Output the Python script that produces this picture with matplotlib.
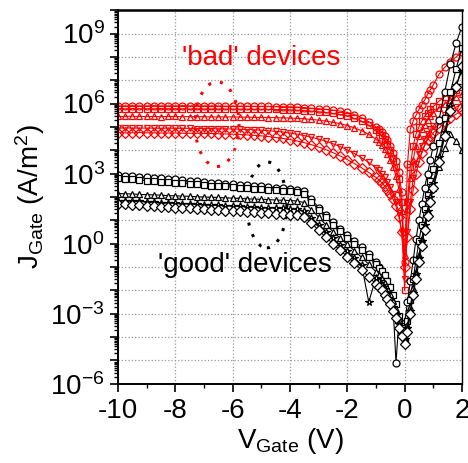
import numpy as np
import matplotlib
matplotlib.use('Agg')
import matplotlib.pyplot as plt
from matplotlib.ticker import LogLocator, FuncFormatter, MultipleLocator, NullFormatter
from matplotlib.patches import Ellipse

plt.rcParams['font.family'] = ['Liberation Sans', 'DejaVu Sans']
plt.rcParams['mathtext.fontset'] = 'custom'
plt.rcParams['mathtext.rm'] = 'Liberation Sans'
plt.rcParams['mathtext.it'] = 'Liberation Sans'

# gate voltage sweep (V)
V = [-10.0, -9.75, -9.5, -9.25, -9.0, -8.75, -8.5, -8.25, -8.0, -7.75, -7.5, -7.25,
     -7.0, -6.75, -6.5, -6.25, -6.0, -5.75, -5.5, -5.25, -5.0, -4.75, -4.5, -4.25, -4.0,
     -3.75, -3.5, -3.25, -3.0, -2.75, -2.5, -2.25, -2.0, -1.75, -1.5, -1.25, -1.0,
     -0.9, -0.8, -0.7, -0.6, -0.5, -0.4, -0.3, -0.2, -0.1, 0.0, 0.1, 0.2, 0.3, 0.4,
     0.5, 0.6, 0.7, 0.8, 0.9, 1.0,
     1.2, 1.4, 1.6, 1.8, 2.0]

# log10(J_gate), 'bad' devices
bad_1 = [5.90, 5.90, 5.91, 5.90, 5.90, 5.91, 5.90, 5.90, 5.90, 5.91, 5.90, 5.90, 5.90, 5.90, 5.90, 5.89, 5.89, 5.89, 5.89, 5.88, 5.88, 5.88, 5.87, 5.87, 5.86,
         5.85, 5.83, 5.80, 5.78, 5.75, 5.72, 5.68, 5.62, 5.53, 5.40, 5.22, 5.00,
         4.90, 4.78, 4.62, 4.42, 4.18, 3.90, 3.55, 3.05, 2.20, -0.8, 3.4, 4.9, 5.25, 5.5, 5.75, 5.95, 6.15, 6.4, 6.6, 6.8,
         7.25, 7.55, 7.8, 8.0, 8.2]
bad_2 = [5.78, 5.78, 5.79, 5.78, 5.78, 5.78, 5.79, 5.78, 5.78, 5.78, 5.77, 5.78, 5.77, 5.77, 5.77, 5.77, 5.76, 5.76, 5.76, 5.76, 5.75, 5.75, 5.75, 5.74, 5.73,
         5.72, 5.70, 5.68, 5.65, 5.62, 5.58, 5.53, 5.46, 5.37, 5.25, 5.08, 4.88,
         4.78, 4.65, 4.48, 4.26, 4.0, 3.68, 3.28, 2.75, 1.8, -2.0, 1.8, 3.3, 4.2, 4.7, 5.0, 5.25, 5.45, 5.6, 5.75, 5.88,
         6.1, 6.3, 6.45, 6.6, 6.7]
bad_3 = [5.45, 5.45, 5.46, 5.45, 5.45, 5.45, 5.44, 5.45, 5.45, 5.44, 5.44, 5.44, 5.44, 5.43, 5.43, 5.43, 5.43, 5.42, 5.42, 5.41, 5.41, 5.40, 5.40, 5.39, 5.38,
         5.37, 5.35, 5.32, 5.29, 5.25, 5.20, 5.14, 5.06, 4.96, 4.84, 4.68, 4.48,
         4.36, 4.22, 4.05, 3.85, 3.6, 3.28, 2.9, 2.35, 1.4, -0.5, 1.5, 2.8, 3.6, 4.2, 4.6, 4.9, 5.1, 5.3, 5.45, 5.6,
         5.8, 6.0, 6.15, 6.3, 6.4]
bad_4 = [4.95, 4.96, 4.95, 4.95, 4.95, 4.95, 4.94, 4.95, 4.94, 4.94, 4.94, 4.93, 4.93, 4.93, 4.92, 4.92, 4.91, 4.90, 4.89, 4.88, 4.86, 4.84, 4.81, 4.78, 4.74,
         4.69, 4.63, 4.56, 4.48, 4.39, 4.28, 4.16, 4.02, 3.86, 3.68, 3.48, 3.26,
         3.15, 3.0, 2.85, 2.65, 2.42, 2.15, 1.8, 1.3, 0.5, -1.5, 0.5, 1.8, 2.8, 3.4, 3.85, 4.2, 4.5, 4.7, 4.9, 5.05,
         5.3, 5.5, 5.7, 5.85, 6.0]
bad_5 = [4.76, 4.75, 4.75, 4.76, 4.75, 4.75, 4.74, 4.74, 4.74, 4.73, 4.73, 4.73, 4.72, 4.72, 4.71, 4.70, 4.69, 4.68, 4.66, 4.64, 4.62, 4.59, 4.55, 4.51, 4.46,
         4.40, 4.33, 4.24, 4.14, 4.03, 3.90, 3.76, 3.60, 3.43, 3.25, 3.05, 2.84,
         2.74, 2.62, 2.48, 2.32, 2.12, 1.9, 1.6, 1.15, 0.5, -1.0, 0.3, 1.5, 2.3, 3.0, 3.5, 3.9, 4.2, 4.45, 4.6, 4.75,
         4.95, 5.2, 5.4, 5.55, 5.7]

# log10(J_gate), 'good' devices
good_1 = [2.95, 2.92, 2.90, 2.87, 2.85, 2.82, 2.80, 2.77, 2.75, 2.72, 2.70, 2.67, 2.65, 2.62, 2.60, 2.57, 2.55, 2.52, 2.50, 2.47, 2.45, 2.42, 2.40, 2.37, 2.35,
          2.32, 2.25, 1.90, 1.55, 1.22, 0.92, 0.64, 0.38, 0.12, -0.15, -0.45, -0.78,
          -1.0, -1.25, -1.5, -1.8, -2.2, -2.7, -5.1, -3.3, -3.7, -3.4, -2.5, -1.6, -0.7, 0.2, 1.0, 1.7, 2.4, 3.0, 3.6, 4.2,
          5.3, 6.5, 7.7, 8.6, 9.3]
good_2 = [2.80, 2.78, 2.75, 2.73, 2.70, 2.68, 2.66, 2.63, 2.61, 2.59, 2.56, 2.54, 2.52, 2.49, 2.47, 2.45, 2.42, 2.40, 2.38, 2.35, 2.33, 2.31, 2.28, 2.26, 2.24,
          2.21, 2.13, 1.80, 1.46, 1.13, 0.82, 0.53, 0.26, 0.0, -0.27, -0.56, -0.88,
          -1.02, -1.18, -1.36, -1.58, -1.85, -2.2, -2.6, -3.1, -3.6, -4.2, -3.3, -2.4, -1.5, -0.7, 0.1, 0.8, 1.5, 2.1, 2.7, 3.2,
          4.3, 5.4, 6.5, 7.5, 8.4]
good_3 = [2.15, 2.14, 2.13, 2.11, 2.10, 2.09, 2.08, 2.06, 2.05, 2.04, 2.03, 2.01, 2.00, 1.99, 1.98, 1.96, 1.95, 1.94, 1.92, 1.91, 1.90, 1.89, 1.87, 1.86, 1.85,
          1.83, 1.76, 1.46, 1.14, 0.82, 0.52, 0.24, -0.03, -0.30, -0.58, -0.88, -1.2,
          -1.34, -1.5, -1.68, -1.9, -2.15, -2.45, -2.8, -3.25, -3.7, -4.0, -3.5, -2.7, -1.9, -1.2, -0.5, 0.2, 0.8, 1.4, 1.9, 2.4,
          3.3, 4.1, 4.7, 4.4, 4.0]
good_4 = [1.85, 1.84, 1.82, 1.81, 1.79, 1.78, 1.76, 1.75, 1.73, 1.72, 1.70, 1.69, 1.67, 1.66, 1.64, 1.63, 1.61, 1.60, 1.58, 1.57, 1.55, 1.54, 1.52, 1.51, 1.49,
          1.47, 1.40, 1.12, 0.82, 0.52, 0.23, -0.05, -0.32, -0.6, -0.9, -2.5, -1.45,
          -1.58, -1.75, -1.94, -2.15, -2.4, -2.7, -3.05, -3.45, -3.85, -4.1, -3.6, -2.9, -2.1, -1.3, -0.6, 0.1, 0.8, 1.4, 2.0, 2.6,
          3.7, 4.8, 5.9, 6.8, 7.4]
good_5 = [1.70, 1.68, 1.66, 1.65, 1.63, 1.61, 1.59, 1.57, 1.55, 1.53, 1.52, 1.50, 1.48, 1.46, 1.44, 1.42, 1.40, 1.38, 1.36, 1.35, 1.33, 1.31, 1.29, 1.27, 1.25,
          1.23, 1.16, 0.88, 0.58, 0.28, 0.0, -0.28, -0.55, -0.83, -1.12, -1.42, -1.72,
          -1.85, -2.0, -2.18, -2.38, -2.6, -2.88, -3.2, -3.6, -3.95, -4.3, -3.8, -3.0, -2.2, -1.5, -0.8, -0.1, 0.6, 1.2, 1.8, 2.4,
          3.5, 4.6, 5.7, 6.7, 7.6]

bad_curves = [bad_1, bad_2, bad_3, bad_4, bad_5]
good_curves = [good_1, good_2, good_3, good_4, good_5]
bad_markers = ['o', 's', '^', 'v', 'D']
good_markers = ['o', 's', '^', '*', 'D']

fig = plt.figure(figsize=(4.68, 4.63), dpi=100)
ax = fig.add_axes([0.252, 0.171, 0.735, 0.807])

for y, m in zip(bad_curves, bad_markers):
    ax.plot(V, 10.0 ** np.array(y), '-', color='red', lw=0.8,
            marker=m, ms=5, mfc='none', mec='red', mew=0.9)
for y, m in zip(good_curves, good_markers):
    ax.plot(V, 10.0 ** np.array(y), '-', color='black', lw=0.8,
            marker=m, ms=5.5 if m == '*' else 5, mfc='white', mec='black', mew=0.9)

ax.set_yscale('log')
ax.set_xlim(-10, 2)
ax.set_ylim(1e-6, 1e10)

ax.xaxis.set_major_locator(MultipleLocator(2))
ax.xaxis.set_minor_locator(MultipleLocator(1))
ax.yaxis.set_major_locator(LogLocator(base=10, numticks=30))
ax.yaxis.set_minor_locator(LogLocator(base=10, subs=np.arange(2, 10), numticks=30))
ax.yaxis.set_minor_formatter(NullFormatter())

def ylab(v, pos):
    e = int(round(np.log10(v)))
    return r'$10^{%d}$' % e if e % 3 == 0 else ''

ax.yaxis.set_major_formatter(FuncFormatter(ylab))
ax.xaxis.set_major_formatter(FuncFormatter(lambda v, p: '%d' % v))

ax.tick_params(which='major', direction='out', length=6, width=1.2, labelsize=20)
ax.tick_params(which='minor', direction='out', length=3, width=1.0)
ax.tick_params(axis='x', pad=4)
ax.grid(True, which='major', color='#999999', ls=':', lw=0.9)
for side in ['left', 'bottom']:
    ax.spines[side].set_linewidth(1.4)
ax.spines['top'].set_linewidth(1.8)
ax.spines['right'].set_linewidth(1.0)

ax.set_xlabel(r'V$_{\mathrm{Gate}}$ (V)', fontsize=20, labelpad=2)
ax.set_ylabel(r'J$_{\mathrm{Gate}}$ (A/m$^2$)', fontsize=20, labelpad=2)

ax.text(0.416, 0.872, "'bad' devices", color='red', fontsize=20,
        ha='center', va='center', transform=ax.transAxes)
ax.text(0.369, 0.318, "'good' devices", color='black', fontsize=20,
        ha='center', va='center', transform=ax.transAxes)

ax.add_patch(Ellipse((0.288, 0.695), 0.128, 0.227, transform=ax.transAxes,
                     fill=False, ec='red', lw=2.2, ls=(0, (1, 3))))
ax.add_patch(Ellipse((0.433, 0.479), 0.116, 0.23, transform=ax.transAxes,
                     fill=False, ec='black', lw=2.2, ls=(0, (1, 3))))

fig.savefig('out.png', dpi=100)
